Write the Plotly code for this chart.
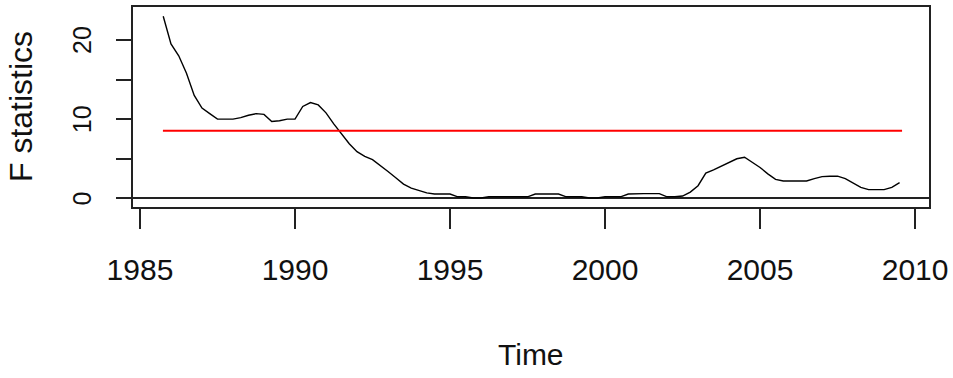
import plotly.graph_objects as go

# ---- data ----
time = [1985.75 + 0.25 * i for i in range(96)]
fstat = [
    23.0, 19.5, 18.0, 15.8, 13.0, 11.4, 10.7, 10.0, 10.0, 10.0,
    10.2, 10.5, 10.7, 10.6, 9.7, 9.8, 10.0, 10.0, 11.6, 12.1,
    11.8, 10.8, 9.4, 8.1, 6.9, 5.9, 5.3, 4.9, 4.2, 3.4,
    2.6, 1.8, 1.3, 1.0, 0.7, 0.55, 0.55, 0.55, 0.2, 0.2,
    0.05, 0.05, 0.2, 0.2, 0.2, 0.2, 0.2, 0.2, 0.55, 0.55,
    0.55, 0.55, 0.2, 0.2, 0.2, 0.05, 0.05, 0.2, 0.2, 0.2,
    0.55, 0.6, 0.6, 0.6, 0.6, 0.2, 0.2, 0.3, 0.8, 1.6,
    3.2, 3.6, 4.1, 4.6, 5.0, 5.2, 4.6, 3.9, 3.1, 2.4,
    2.2, 2.2, 2.2, 2.2, 2.5, 2.75, 2.8, 2.8, 2.5, 2.0,
    1.4, 1.1, 1.1, 1.1, 1.4, 2.0,
]
boundary = 8.55
boundary_x = [1985.74, 2009.58]

x_tickvals = [1985, 1990, 1995, 2000, 2005, 2010]
x_ticktext = ["1985", "1990", "1995", "2000", "2005", "2010"]
y_tickvals = [0, 5, 10, 15, 20]
y_labelvals = [0, 10, 20]
y_labeltext = ["0", "10", "20"]

x_title = "Time"
y_title = "F statistics"

REG = "Liberation Sans, Arial, sans-serif"

fig = go.Figure()
fig.add_trace(go.Scatter(x=time, y=fstat, mode="lines",
                         line=dict(color="black", width=1.4), hoverinfo="skip"))
fig.add_trace(go.Scatter(x=boundary_x, y=[boundary, boundary], mode="lines",
                         line=dict(color="#ff0000", width=2), hoverinfo="skip"))

annotations = [
    dict(text=x_title, xref="paper", yref="paper", x=0.5, y=0,
         yshift=-147, xanchor="center", yanchor="middle", showarrow=False,
         font=dict(family=REG, size=30, color="#111")),
    dict(text=y_title, xref="paper", yref="paper", x=0, y=0.5,
         xshift=-112, xanchor="center", yanchor="middle", showarrow=False,
         textangle=-90,
         font=dict(family=REG, size=32, color="#111")),
]
for v, t in zip(y_labelvals, y_labeltext):
    annotations.append(dict(
        text=t, xref="paper", yref="y", x=0, y=v, xshift=-51,
        xanchor="center", yanchor="middle", showarrow=False, textangle=-90,
        font=dict(family=REG, size=25, color="#111")))

fig.update_layout(
    width=953, height=378,
    margin=dict(l=133, r=20, t=5, b=171),
    paper_bgcolor="white", plot_bgcolor="white",
    showlegend=False,
    xaxis=dict(
        range=[1984.775, 2010.449],
        tickvals=x_tickvals, ticktext=x_ticktext,
        ticks="outside", ticklen=20, tickwidth=1.5, tickcolor="#222",
        showline=True, linecolor="#222", linewidth=1.5, mirror=True,
        showgrid=False, zeroline=False,
        tickfont=dict(family=REG, size=30, color="#111"),
        ticklabelstandoff=15,
        ticklabeloverflow="allow",
    ),
    yaxis=dict(
        range=[-1.0875, 24.16],
        tickvals=y_tickvals,
        ticks="outside", ticklen=15, tickwidth=1.5, tickcolor="#222",
        showline=True, linecolor="#222", linewidth=1.5, mirror=True,
        showgrid=False, showticklabels=False,
        zeroline=True, zerolinecolor="#222", zerolinewidth=1.5,
    ),
    annotations=annotations,
)

fig.write_html("out.html")
